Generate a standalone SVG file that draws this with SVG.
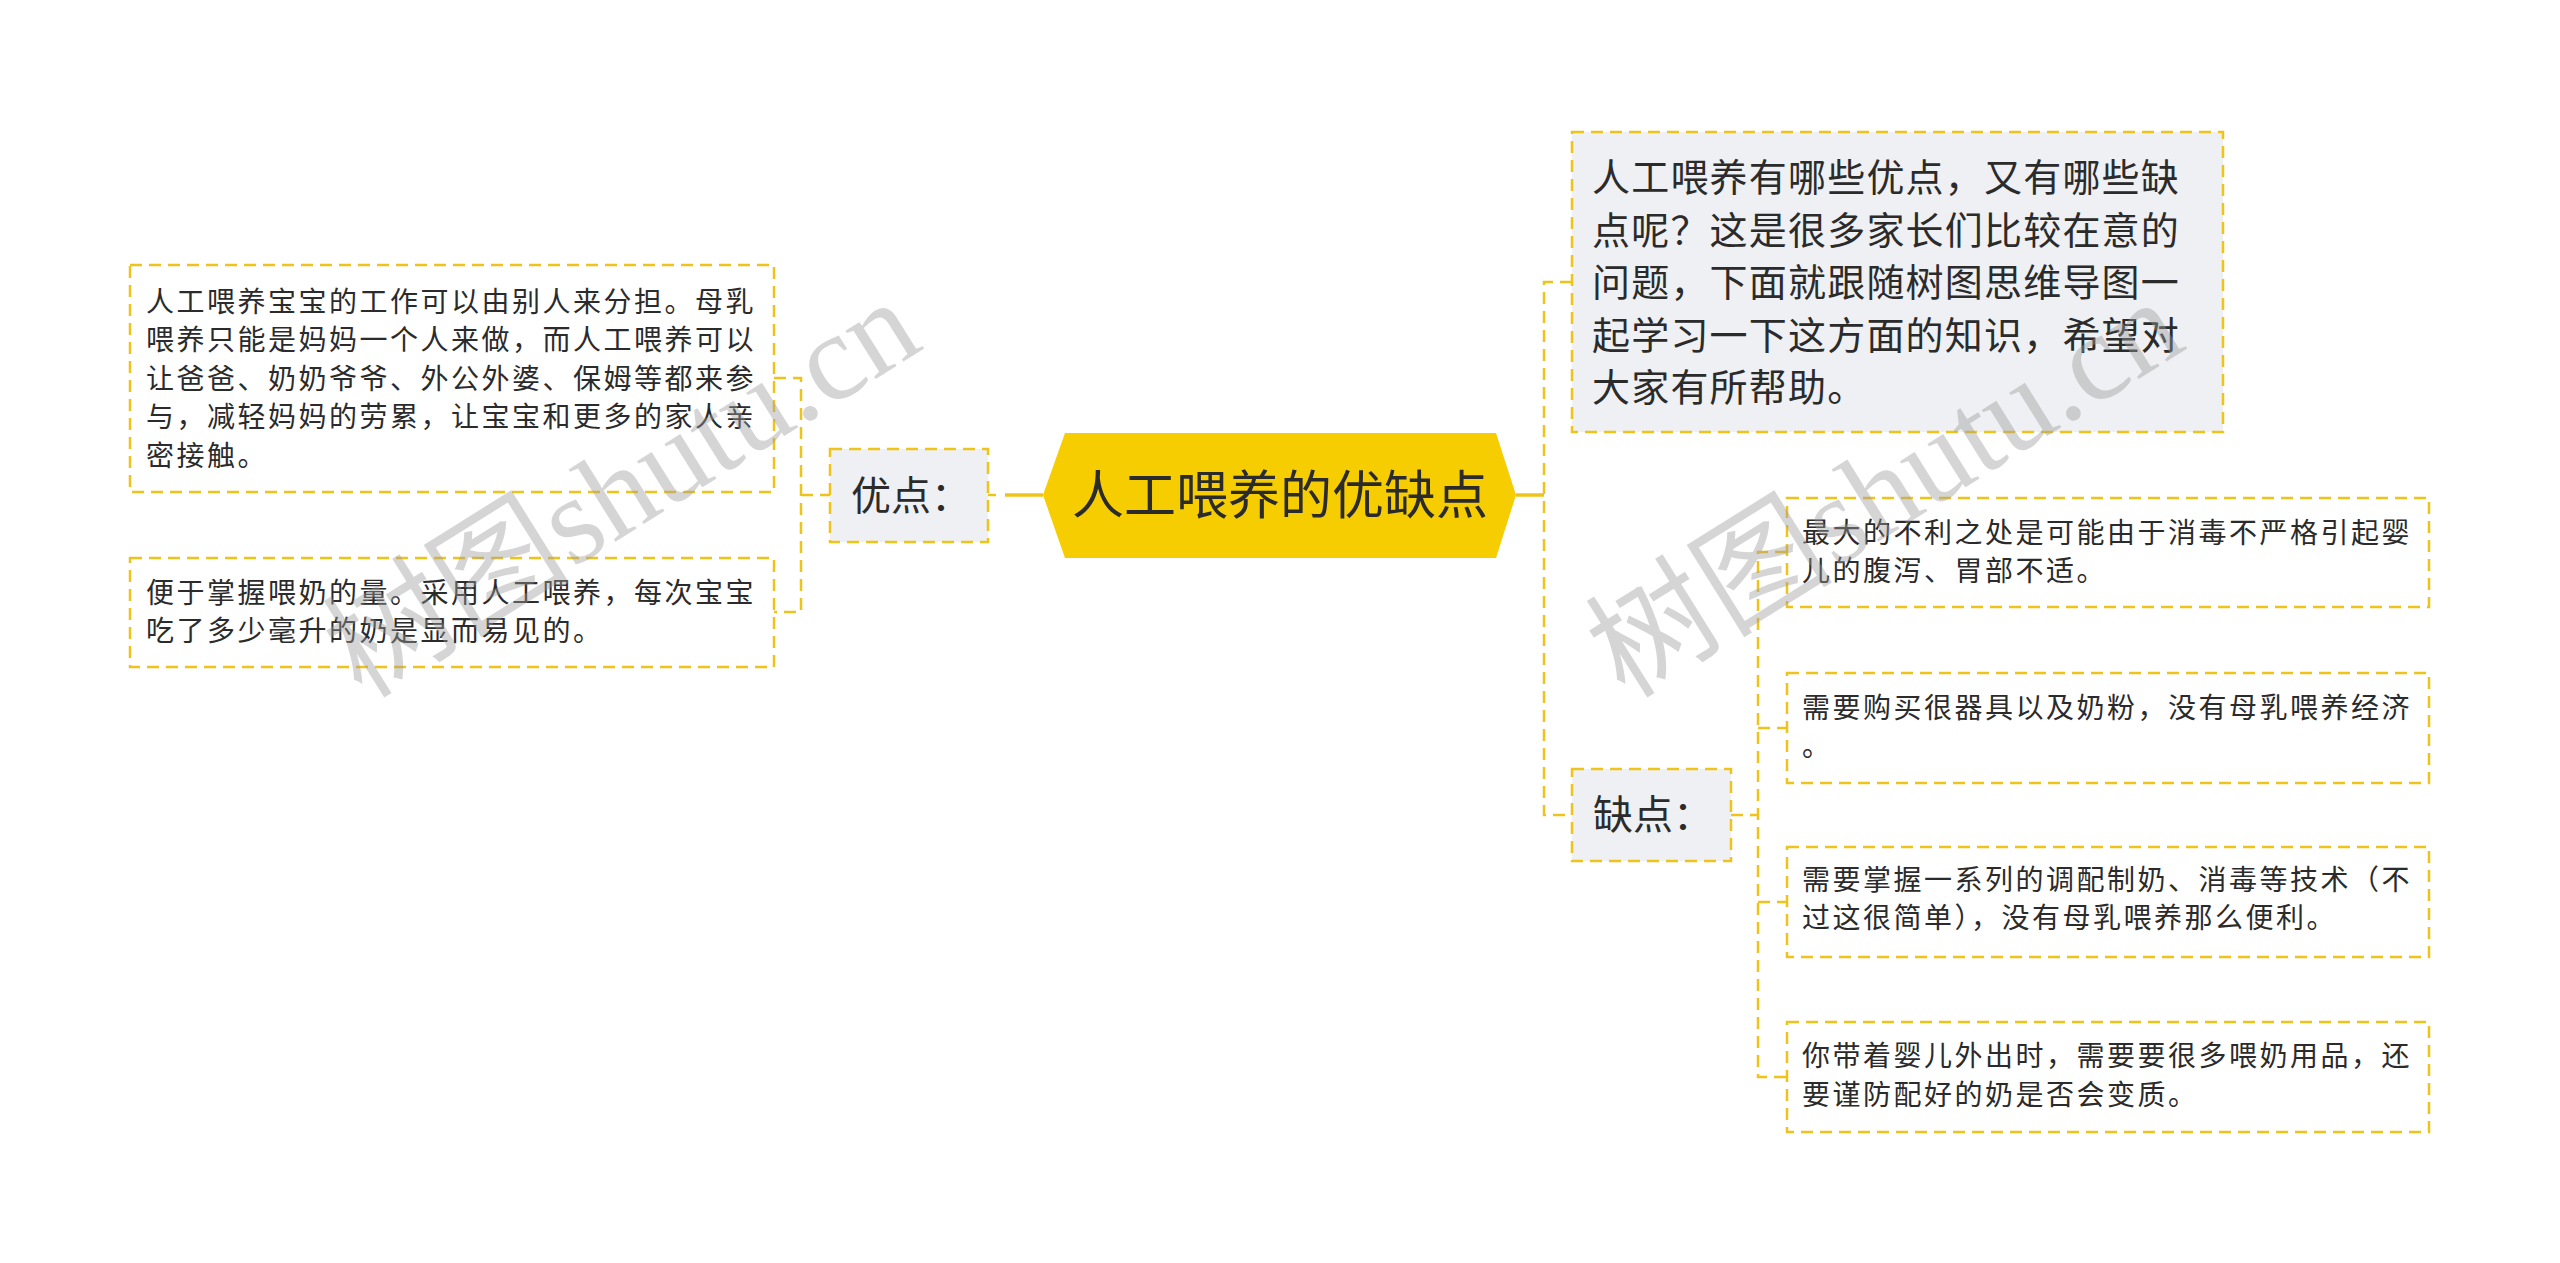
<svg xmlns="http://www.w3.org/2000/svg" width="2560" height="1263" viewBox="0 0 2560 1263">
<style>
.bg{fill:#ffffff}
.box{fill:#ffffff;stroke:#efc41a;stroke-width:2.5;stroke-dasharray:12 7}
.gbox{fill:#eef0f3;stroke:#efc41a;stroke-width:2.5;stroke-dasharray:12 7}
.hex{fill:#f5cd00}
.dash{fill:none;stroke:#efc41a;stroke-width:2.5;stroke-dasharray:12 7}
.solid{fill:none;stroke:#efc41a;stroke-width:3.5}
text{font-family:"Noto Sans CJK SC","Noto Sans",sans-serif;fill:#2b2b2b}
.t27{font-size:28px;letter-spacing:2.5px}
.t37{font-size:38px;letter-spacing:1.2px}
.t40{font-size:40px}
.t52{font-size:52px}
.wm{font-family:"Liberation Serif","Noto Sans CJK SC",serif;font-size:124px;fill:#9a9a9a;fill-opacity:0.42}
</style>
<rect class="bg" x="0" y="0" width="2560" height="1263"/>
<g id="connectors">
  <path class="dash" d="M988,495 H996"/>
  <path class="solid" d="M1005,495 H1043"/>
  <path class="dash" d="M774,378 H801 V612 H774"/>
  <path class="dash" d="M801,495 H830"/>
  <path class="solid" d="M1516,495 H1544"/>
  <path class="dash" d="M1572,282 H1544 V815 H1572"/>
  <path class="dash" d="M1731,815 H1758"/>
  <path class="dash" d="M1787,552 H1758 V1077 H1787"/>
  <path class="dash" d="M1758,728 H1787"/>
  <path class="dash" d="M1758,902 H1787"/>
</g>
<g id="center">
  <polygon class="hex" points="1043,495 1065,433 1496,433 1516,495 1496,558 1065,558"/>
  <text class="t52" x="1280" y="514" text-anchor="middle">人工喂养的优缺点</text>
</g>
<g id="pros">
  <rect class="gbox" x="830" y="449" width="158" height="93"/>
  <text class="t40" x="851" y="510">优点：</text>
</g>
<g id="pro1">
  <rect class="box" x="130" y="265" width="644" height="227"/>
  <text class="t27" x="146" y="312">人工喂养宝宝的工作可以由别人来分担。母乳</text>
  <text class="t27" x="146" y="350.4">喂养只能是妈妈一个人来做，而人工喂养可以</text>
  <text class="t27" x="146" y="388.8">让爸爸、奶奶爷爷、外公外婆、保姆等都来参</text>
  <text class="t27" x="146" y="427.2">与，减轻妈妈的劳累，让宝宝和更多的家人亲</text>
  <text class="t27" x="146" y="465.6">密接触。</text>
</g>
<g id="pro2">
  <rect class="box" x="130" y="558" width="644" height="109"/>
  <text class="t27" x="146" y="603">便于掌握喂奶的量。采用人工喂养，每次宝宝</text>
  <text class="t27" x="146" y="641">吃了多少毫升的奶是显而易见的。</text>
</g>
<g id="intro">
  <rect class="gbox" x="1572" y="132" width="651" height="300"/>
  <text class="t37" x="1592" y="191">人工喂养有哪些优点，又有哪些缺</text>
  <text class="t37" x="1592" y="243.5">点呢？这是很多家长们比较在意的</text>
  <text class="t37" x="1592" y="296">问题，下面就跟随树图思维导图一</text>
  <text class="t37" x="1592" y="348.5">起学习一下这方面的知识，希望对</text>
  <text class="t37" x="1592" y="401">大家有所帮助。</text>
</g>
<g id="cons">
  <rect class="gbox" x="1572" y="769" width="159" height="92"/>
  <text class="t40" x="1593" y="829">缺点：</text>
</g>
<g id="con1">
  <rect class="box" x="1787" y="498" width="642" height="109"/>
  <text class="t27" x="1802" y="543">最大的不利之处是可能由于消毒不严格引起婴</text>
  <text class="t27" x="1802" y="581">儿的腹泻、胃部不适。</text>
</g>
<g id="con2">
  <rect class="box" x="1787" y="673" width="642" height="110"/>
  <text class="t27" x="1802" y="718">需要购买很器具以及奶粉，没有母乳喂养经济</text>
  <text class="t27" x="1802" y="756">。</text>
</g>
<g id="con3">
  <rect class="box" x="1787" y="847" width="642" height="110"/>
  <text class="t27" x="1802" y="890">需要掌握一系列的调配制奶、消毒等技术（不</text>
  <text class="t27" x="1802" y="928">过这很简单），没有母乳喂养那么便利。</text>
</g>
<g id="con4">
  <rect class="box" x="1787" y="1022" width="642" height="110"/>
  <text class="t27" x="1802" y="1066">你带着婴儿外出时，需要要很多喂奶用品，还</text>
  <text class="t27" x="1802" y="1105">要谨防配好的奶是否会变质。</text>
</g>
<g id="watermarks">
  <text class="wm" x="362" y="700" transform="rotate(-32 362 700)">树图shutu.cn</text>
  <text class="wm" x="1625" y="700" transform="rotate(-32 1625 700)">树图shutu.cn</text>
</g>
</svg>
